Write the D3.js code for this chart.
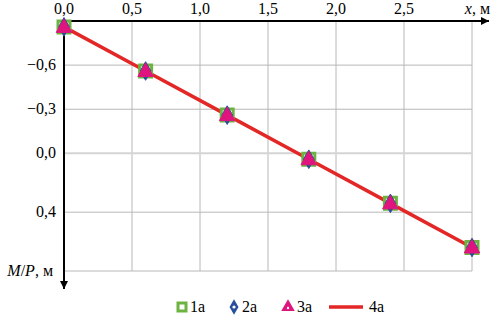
<!DOCTYPE html>
<html>
<head>
<meta charset="utf-8">
<script src="https://cdn.jsdelivr.net/npm/d3@7"></script>
<style>
  body { margin: 0; background: #fff; font-family: "Liberation Serif", "Times New Roman", serif; }
  #chart, #chart text, #chart tspan { font-family: "Liberation Serif", "Times New Roman", serif !important; }
</style>
</head>
<body>
<svg id="chart" width="493" height="316" style="font-family: 'Liberation Serif', serif"></svg>
<script>
// data
const xs = [0, 0.6, 1.2, 1.8, 2.4, 3.0];
const s1a = [-0.86, -0.56, -0.26, 0.04, 0.34, 0.64];
const s2a = [-0.86, -0.56, -0.26, 0.04, 0.34, 0.64];
const s3a = [-0.86, -0.56, -0.26, 0.04, 0.34, 0.64];
const s4a = [-0.86, -0.56, -0.26, 0.04, 0.34, 0.64];
const xTicks = [0, 0.5, 1.0, 1.5, 2.0, 2.5, 3.0];
const xLabels = [0, 0.5, 1.0, 1.5, 2.0, 2.5];
const yTicks = [-0.6, -0.3, 0.0, 0.4];
const yGrid = [-0.6, -0.3, 0.0, 0.4, 0.8];
const legendNames = ["1а", "2а", "3а", "4а"];

const FONT = "'Liberation Serif', 'Times New Roman', serif";
const svg = d3.select("#chart");
const x = d3.scaleLinear().domain([0, 3]).range([64, 472]);
const y = d3.scaleLinear().domain([-0.9, 0.8]).range([21, 271]);
const fmt = v => d3.format(".1f")(v).replace(".", ",").replace("-", "–");

const green = "#6cb33f", blue = "#2a4e9c", pink = "#e0147f", red = "#e32626";

// grid
svg.append("g").selectAll("line").data(xTicks.slice(1)).join("line")
  .attr("x1", d => x(d)).attr("x2", d => x(d))
  .attr("y1", y(-0.9)).attr("y2", y(0.8))
  .attr("stroke", "#b8b8b8").attr("stroke-width", 1);
svg.append("g").selectAll("line").data(yGrid).join("line")
  .attr("x1", x(0)).attr("x2", x(3))
  .attr("y1", d => y(d)).attr("y2", d => y(d))
  .attr("stroke", d => d === 0 ? "#d4d4d4" : "#b8b8b8")
  .attr("stroke-width", d => d === 0 ? 2 : 1);

// axes with arrows
const defs = svg.append("defs");
defs.append("marker").attr("id", "arr").attr("viewBox", "0 0 10 10")
  .attr("refX", 10).attr("refY", 5).attr("markerWidth", 5).attr("markerHeight", 4)
  .attr("markerUnits", "strokeWidth").attr("orient", "auto")
  .append("path").attr("d", "M0,0L10,5L0,10z").attr("fill", "#000");

svg.append("line").attr("x1", x(0)).attr("x2", 489).attr("y1", y(-0.9)).attr("y2", y(-0.9))
  .attr("stroke", "#000").attr("stroke-width", 2).attr("marker-end", "url(#arr)");
svg.append("line").attr("x1", x(0)).attr("x2", x(0)).attr("y1", y(-0.9)).attr("y2", 289)
  .attr("stroke", "#000").attr("stroke-width", 2).attr("marker-end", "url(#arr)");

// tick labels
svg.append("g").selectAll("text").data(xLabels).join("text")
  .style("font-family", FONT)
  .attr("x", d => x(d)).attr("y", 14).attr("text-anchor", "middle")
  .style("font-size", "16px").text(fmt);
svg.append("g").selectAll("text").data(yTicks).join("text")
  .style("font-family", FONT)
  .attr("x", 56).attr("y", d => y(d) + 5).attr("text-anchor", "end")
  .style("font-size", "16px").text(fmt);

// axis titles
const xt = svg.append("text").style("font-family", FONT)
  .attr("x", 490).attr("y", 14).attr("text-anchor", "end").style("font-size", "16px");
xt.append("tspan").style("font-style", "italic").text("x");
xt.append("tspan").text(", м");
const yt = svg.append("text").style("font-family", FONT)
  .attr("x", 53).attr("y", y(0.8) + 5).attr("text-anchor", "end").style("font-size", "16px");
yt.append("tspan").style("font-style", "italic").text("M");
yt.append("tspan").text("/");
yt.append("tspan").style("font-style", "italic").text("P");
yt.append("tspan").text(", м");

// line 4a
const line = d3.line().x((d, i) => x(xs[i])).y(d => y(d));
svg.append("path").datum(s4a).attr("d", line)
  .attr("fill", "none").attr("stroke", red).attr("stroke-width", 3.5);

// markers
const sq = d3.symbol().type(d3.symbolSquare).size(144);
const dia = d3.symbol().type(d3.symbolDiamond).size(100);
const tri = d3.symbol().type(d3.symbolTriangle).size(105);

svg.append("g").selectAll("path").data(s1a).join("path")
  .attr("transform", (d, i) => `translate(${x(xs[i])},${y(d)})`)
  .attr("d", sq).attr("fill", "#fff").attr("stroke", green).attr("stroke-width", 3);
svg.append("g").selectAll("path").data(s2a).join("path")
  .attr("transform", (d, i) => `translate(${x(xs[i])},${y(d)})`)
  .attr("d", dia).attr("fill", blue).attr("stroke", blue).attr("stroke-width", 1);
svg.append("g").selectAll("path").data(s3a).join("path")
  .attr("transform", (d, i) => `translate(${x(xs[i])},${y(d) + 1})`)
  .attr("d", tri).attr("fill", pink).attr("stroke", pink).attr("stroke-width", 1);

// legend
const ly = 307;
const lg = svg.append("g");
lg.append("path").attr("transform", `translate(182,${ly})`)
  .attr("d", d3.symbol().type(d3.symbolSquare).size(64)).attr("fill", "#fff")
  .attr("stroke", green).attr("stroke-width", 3);
lg.append("path").attr("transform", `translate(234,${ly})`)
  .attr("d", d3.symbol().type(d3.symbolDiamond).size(70)).attr("fill", blue);
lg.append("circle").attr("cx", 234).attr("cy", ly).attr("r", 1.6).attr("fill", "#fff");
lg.append("path").attr("transform", `translate(288,${ly})`)
  .attr("d", d3.symbol().type(d3.symbolTriangle).size(80)).attr("fill", pink);
lg.append("circle").attr("cx", 288).attr("cy", ly + 1).attr("r", 1.2).attr("fill", "#fff");
lg.append("line").attr("x1", 329).attr("x2", 363).attr("y1", ly).attr("y2", ly)
  .attr("stroke", red).attr("stroke-width", 3.5);
const lx = [190, 242, 297, 369];
lg.selectAll("text").data(legendNames).join("text")
  .style("font-family", FONT)
  .attr("x", (d, i) => lx[i]).attr("y", ly + 5).style("font-size", "16px").text(d => d);
</script>
</body>
</html>
